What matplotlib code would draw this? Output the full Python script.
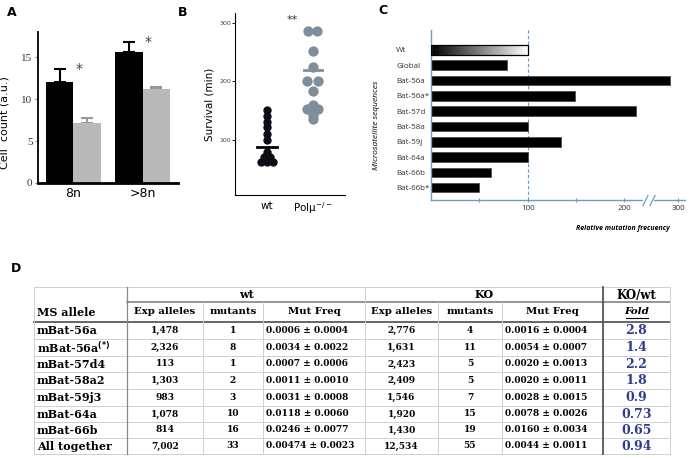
import numpy as np
import matplotlib
matplotlib.use("Agg")
import matplotlib.pyplot as plt
import matplotlib.transforms as mtransforms

W, H = 689, 458

# ---- panel A: cell counts
groups = ["8n", ">8n"]
wt_count = [12.0, 15.6]
wt_err = [1.6, 1.2]
ko_count = [7.2, 11.2]
ko_err = [0.5, 0.2]

# ---- panel B: survival (min)
wt_surv = [151, 141, 131, 121, 110, 100, 78, 70, 70, 62, 62, 62]
wt_jit = [0, 0, 0, 0, 0, 0, 0, -0.07, 0.07, -0.13, 0, 0.13]
pol_surv = [286, 286, 252, 225, 201, 201, 184, 160, 153, 153, 153, 143, 136]
pol_jit = [-0.1, 0.08, 0, 0, -0.12, 0.1, 0, 0, -0.12, 0, 0.11, 0, 0]
surv_mean = [88, 220]
surv_labels = ["wt", r"Pol$\mathregular{\mu}^{\mathregular{-/-}}$"]

# ---- panel C: relative mutation frequency
ms_names = ["Wt", "Global", "Bat-56a", "Bat-56a*", "Bat-57d", "Bat-58a",
            "Bat-59j", "Bat-64a", "Bat-66b", "Bat-66b*"]
rel_freq = [100, 79, 280, 149, 212, 100, 134, 100, 62, 50]

# ---- panel D: table
ms_allele = ["mBat-56a", r"mBat-56a$^{\mathbf{(*)}}$", "mBat-57d4", "mBat-58a2",
             "mBat-59j3", "mBat-64a", "mBat-66b", "All together"]
wt_exp = [1478, 2326, 113, 1303, 983, 1078, 814, 7002]
wt_mut = [1, 8, 1, 2, 3, 10, 16, 33]
wt_freq = ["0.0006 ± 0.0004", "0.0034 ± 0.0022", "0.0007 ± 0.0006", "0.0011 ± 0.0010",
           "0.0031 ± 0.0008", "0.0118 ± 0.0060", "0.0246 ± 0.0077", "0.00474 ± 0.0023"]
ko_exp = [2776, 1631, 2423, 2409, 1546, 1920, 1430, 12534]
ko_mut = [4, 11, 5, 5, 7, 15, 19, 55]
ko_freq = ["0.0016 ± 0.0004", "0.0054 ± 0.0007", "0.0020 ± 0.0013", "0.0020 ± 0.0011",
           "0.0028 ± 0.0015", "0.0078 ± 0.0026", "0.0160 ± 0.0034", "0.0044 ± 0.0011"]
fold = ["2.8", "1.4", "2.2", "1.8", "0.9", "0.73", "0.65", "0.94"]


def px(x0, y0, x1, y1):
    # pixel box -> figure fraction rect
    return [x0 / W, 1 - y1 / H, (x1 - x0) / W, (y1 - y0) / H]


fig = plt.figure(figsize=(W / 100, H / 100), dpi=100)
fig.patch.set_facecolor("white")

for lab, (x, y) in zip("ABCD", [(12, 13), (183, 13), (383, 10), (16, 268)]):
    fig.text(x / W, 1 - y / H, lab, fontsize=9, fontweight="bold", ha="center", va="center")

# ================= A
axA = fig.add_axes(px(38, 32, 178, 183))
x = np.arange(len(groups))
bw = 0.405
axA.bar(x - bw / 2, wt_count, bw, color="black", zorder=2)
axA.bar(x + bw / 2, ko_count, bw, color="#b9b9b9", zorder=2)
axA.errorbar(x - bw / 2, wt_count, yerr=[np.zeros(2), wt_err], fmt="none",
             ecolor="black", elinewidth=1.5, capsize=4, capthick=1.5, zorder=1)
axA.errorbar(x + bw / 2, ko_count, yerr=[np.zeros(2), ko_err], fmt="none",
             ecolor="#999999", elinewidth=1.5, capsize=4, capthick=1.5, zorder=1)
for i in range(len(groups)):
    axA.text(x[i] + 0.08, wt_count[i] + wt_err[i], "*", fontsize=10, color="#444",
             ha="center", va="center")
axA.set_xlim(-0.514, 1.514)
axA.set_ylim(0, 18)
axA.set_yticks([0, 5, 10, 15])
axA.set_yticklabels(["0", "5", "10", "15"], family="Liberation Serif", fontsize=8, color="#333")
axA.set_xticks(x)
axA.set_xticklabels(groups, fontsize=9)
axA.tick_params(axis="x", length=0, pad=3)
axA.tick_params(axis="y", length=2, color="#888", pad=2)
for s in ["top", "right"]:
    axA.spines[s].set_visible(False)
axA.spines["left"].set_linewidth(1.3)
axA.spines["bottom"].set_linewidth(2)
axA.set_ylabel("Cell  count (a.u.)", fontsize=8)
axA.yaxis.set_label_coords(-0.2, 0.4)

# ================= B
axB = fig.add_axes(px(235, 13, 345, 195))
axB.scatter(1 + np.array(wt_jit), wt_surv, s=36, color="#0d0d14", zorder=3, linewidths=0)
axB.scatter(2 + np.array(pol_jit), pol_surv, s=55, color="#7f8e9b", zorder=3, linewidths=0)
axB.plot([0.78, 1.22], [surv_mean[0]] * 2, color="black", lw=2, zorder=4)
axB.plot([1.8, 2.2], [surv_mean[1]] * 2, color="#7f8e9b", lw=2, zorder=4)
axB.text(1.55, 305, "**", fontsize=8, color="#333", ha="center", va="center")
axB.set_xlim(0.3, 2.7)
axB.set_ylim(5, 317)
axB.set_yticks([100, 200, 300])
axB.tick_params(axis="y", labelsize=4.5, labelcolor="#444", length=2, width=0.6, pad=1)
axB.set_xticks([1, 2])
axB.set_xticklabels(surv_labels, fontsize=7.5)
axB.tick_params(axis="x", length=0, pad=4)
for s in ["top", "right"]:
    axB.spines[s].set_visible(False)
axB.spines["left"].set_linewidth(0.8)
axB.spines["bottom"].set_linewidth(0.8)
axB.set_ylabel("Survival (min)", fontsize=7.5, labelpad=3)

# ================= C
blue = "#6b9cc9"


def fwd(v):
    v = np.asarray(v, dtype=float)
    return np.where(v <= 220, v, 220 + (v - 220) * 0.45)


def inv(v):
    v = np.asarray(v, dtype=float)
    return np.where(v <= 220, v, 220 + (v - 220) / 0.45)


axC = fig.add_axes(px(431, 30, 685, 200))
axC.set_xscale("function", functions=(fwd, inv))
yC = np.arange(len(ms_names))
bh = 0.62
axC.barh(yC[1:], rel_freq[1:], height=bh, color="black", edgecolor="#444", lw=0.5, zorder=2)
grad = np.linspace(0, 1, 256).reshape(1, -1)
axC.imshow(grad, cmap="gray", aspect="auto", extent=[0, rel_freq[0], yC[0] + bh / 2, yC[0] - bh / 2],
           zorder=2, interpolation="bilinear")
axC.barh(yC[0], rel_freq[0], height=bh, facecolor="none", edgecolor="black", lw=0.9, zorder=3)
axC.axvline(100, color=blue, ls=(0, (3, 2)), lw=0.8, zorder=1)
axC.set_xlim(0, 315)
axC.set_ylim(9.8, -1.3)
axC.set_yticks(yC)
axC.set_yticklabels(ms_names, family="Open Sans", fontsize=5.8, color="#333", ha="left")
axC.tick_params(axis="y", length=0, pad=25)
axC.set_xticks([50, 100, 150, 200, 300])
axC.set_xticklabels(["", "100", "", "200", "300"], family="Open Sans", fontsize=5.8, color="#333")
axC.tick_params(axis="x", direction="inout", length=3, color=blue, width=0.8, pad=2)
for s in ["top", "right"]:
    axC.spines[s].set_visible(False)
for s in ["left", "bottom"]:
    axC.spines[s].set_color(blue)
    axC.spines[s].set_linewidth(1)
trans = mtransforms.blended_transform_factory(axC.transData, axC.transAxes)
axC.plot([222, 238], [0, 0], color="white", lw=3, transform=trans, clip_on=False, zorder=5)
axC.plot([222, 238], [0, 0], ls="none", marker=[(-1, -2), (1, 2)], markersize=8,
         mec=blue, mew=0.9, transform=trans, clip_on=False, zorder=6)
fig.text(377 / W, 1 - 125 / H, "Microsatellite sequences", rotation=90, fontsize=6,
         style="italic", family="Open Sans", ha="center", va="center")
fig.text(670 / W, 1 - 228 / H, "Relative mutation frecuency", fontsize=5, style="italic",
         fontweight="bold", family="Open Sans", ha="right", va="center")

# ================= D table
axT = fig.add_axes([0, 0, 1, 1], zorder=-1)
axT.set_xlim(0, W)
axT.set_ylim(H, 0)
axT.axis("off")
cols = [34, 127, 203, 263, 365, 438, 502, 603, 670]
rows = [287, 302, 322, 339, 356, 372, 389, 406, 422, 438, 454]
grid = "#cfcfcf"
# horizontal rules
axT.plot([cols[0], cols[-1]], [rows[0], rows[0]], color=grid, lw=0.7)
axT.plot([cols[1], cols[-1]], [rows[1], rows[1]], color="#777", lw=1.1)
axT.plot([cols[0], cols[-1]], [rows[2], rows[2]], color="#666", lw=1.4)
for yv in rows[3:]:
    axT.plot([cols[0], cols[-1]], [yv, yv], color=grid, lw=0.7)
# vertical rules
for xv in cols:
    top = rows[0] if xv in (cols[0], cols[1], cols[4], cols[7], cols[8]) else rows[1]
    if xv == cols[7]:
        axT.plot([xv, xv], [rows[0], rows[-1]], color="#555", lw=1.3)
    elif xv == cols[1]:
        axT.plot([xv, xv], [rows[0], rows[-1]], color="#888", lw=0.9)
    else:
        axT.plot([xv, xv], [top, rows[-1]], color=grid, lw=0.7)

serif = "DejaVu Serif"
hy = (rows[0] + rows[1]) / 2
for lab, c0, c1, fs in [("wt", 1, 4, 8), ("KO", 4, 7, 8), ("KO/wt", 7, 8, 8.5)]:
    axT.text((cols[c0] + cols[c1]) / 2, hy + 0.5, lab, family=serif, fontweight="bold",
             fontsize=fs, ha="center", va="center")
hy2 = (rows[1] + rows[2]) / 2
axT.text(cols[0] + 3, hy2, "MS allele", family=serif, fontweight="bold", fontsize=8,
         ha="left", va="center")
heads = ["Exp alleles", "mutants", "Mut Freq"] * 2
for k, h in enumerate(heads):
    c = k + 1
    axT.text((cols[c] + cols[c + 1]) / 2, hy2, h, family=serif, fontweight="bold", fontsize=7.3,
             ha="center", va="center")
fx = (cols[7] + cols[8]) / 2
axT.text(fx, hy2, "Fold", family=serif, fontweight="bold", style="italic", fontsize=7.5,
         ha="center", va="center")
axT.plot([fx - 11, fx + 11], [hy2 + 6, hy2 + 6], color="black", lw=0.8)

for r in range(len(ms_allele)):
    yv = (rows[r + 2] + rows[r + 3]) / 2
    kw = dict(family=serif, fontweight="bold", fontsize=6.5, va="center")
    axT.text(cols[0] + 3, yv, ms_allele[r], family=serif, fontweight="bold", fontsize=8,
             va="center")
    axT.text((cols[1] + cols[2]) / 2, yv, f"{wt_exp[r]:,}", ha="center", **kw)
    axT.text((cols[2] + cols[3]) / 2, yv, str(wt_mut[r]), ha="center", **kw)
    axT.text(cols[3] + 3, yv, wt_freq[r], ha="left", **kw)
    axT.text((cols[4] + cols[5]) / 2, yv, f"{ko_exp[r]:,}", ha="center", **kw)
    axT.text((cols[5] + cols[6]) / 2, yv, str(ko_mut[r]), ha="center", **kw)
    axT.text(cols[6] + 3, yv, ko_freq[r], ha="left", **kw)
    axT.text(fx, yv, fold[r], family=serif, fontweight="bold", fontsize=9, color="#2e3d8c",
             ha="center", va="center")

fig.savefig("out.png", dpi=100)
